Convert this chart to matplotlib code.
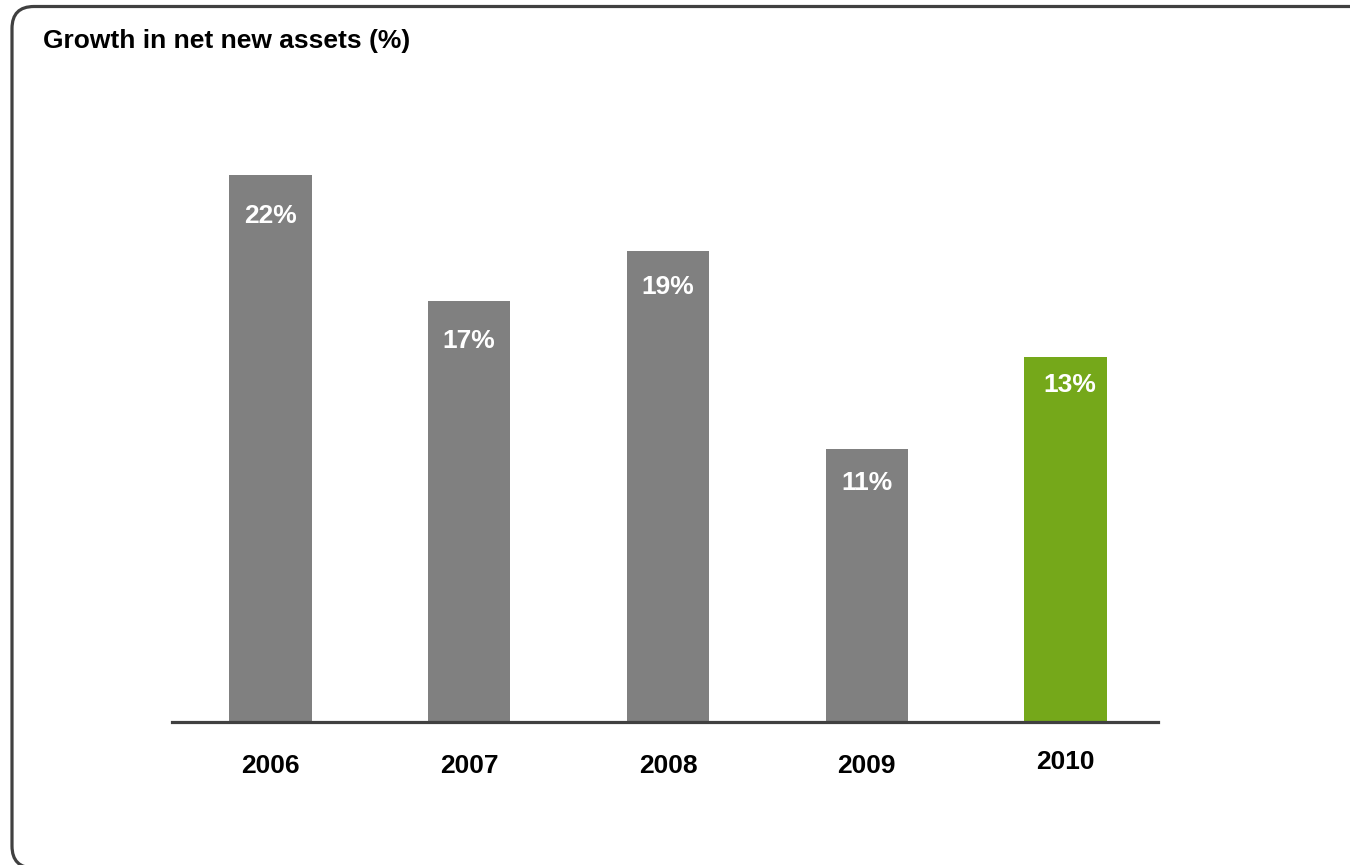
import matplotlib
matplotlib.use("Agg")
import matplotlib.pyplot as plt
from matplotlib.patches import FancyBboxPatch
from matplotlib.transforms import IdentityTransform

plt.rcParams['font.family'] = ['Liberation Sans', 'DejaVu Sans']

# data
years = ['2006', '2007', '2008', '2009', '2010']
growth = [22.0, 16.95, 18.95, 11.0, 14.7]   # bar heights as drawn
growth_labels = ['22%', '17%', '19%', '11%', '13%']
bar_colors = ['#808080', '#808080', '#808080', '#808080', '#75A81A']

# label offsets below bar top (pixels), tweaked by eye
label_drop = [48, 47, 43, 41, 35]
label_shift = [0, 0, 0, 0, 4]

W, H = 1350, 865
fig = plt.figure(figsize=(W / 100, H / 100), dpi=100)

# rounded frame running off the right and bottom edges
frame = FancyBboxPatch((12, -3), 1500, H - 6.5 + 3,
                       boxstyle="round,pad=0,rounding_size=22",
                       transform=IdentityTransform(),
                       facecolor='none', edgecolor='#404040', linewidth=2.3)
fig.patches.append(frame)

fig.text(43 / W, 1 - 48 / H, 'Growth in net new assets (%)',
         fontsize=19, fontweight='bold', ha='left', va='baseline')

px_per_unit = 24.85
ax_left, ax_right, ax_base = 172, 1158, 722
ax_h = 25 * px_per_unit
ax = fig.add_axes([ax_left / W, 1 - ax_base / H, (ax_right - ax_left) / W, ax_h / H])
ax.set_ylim(0, 25)
step = 198.75
ax.set_xlim(-(270.5 - ax_left) / step, 4 + (ax_right - 1065.5) / step)

x = range(len(years))
ax.bar(x, growth, width=0.413, color=bar_colors, zorder=1)

for i, (v, lab) in enumerate(zip(growth, growth_labels)):
    ax.annotate(lab, (i, v), xytext=(label_shift[i] / 1.389, -label_drop[i] / 1.389),
                textcoords='offset points', ha='center', va='baseline',
                color='white', fontsize=19, fontweight='bold')

year_drop = [51, 51, 51, 51, 47]
for i, yr in enumerate(years):
    ax.annotate(yr, (i, 0), xytext=(0, -year_drop[i] / 1.389),
                textcoords='offset points', ha='center', va='baseline',
                color='black', fontsize=19, fontweight='bold',
                annotation_clip=False)

for s in ['top', 'right', 'left']:
    ax.spines[s].set_visible(False)
ax.spines['bottom'].set_color('#404040')
ax.spines['bottom'].set_linewidth(2.3)
ax.spines['bottom'].set_zorder(3)
ax.set_xticks([])
ax.set_yticks([])
ax.patch.set_visible(False)

fig.savefig('out.png', dpi=100)
